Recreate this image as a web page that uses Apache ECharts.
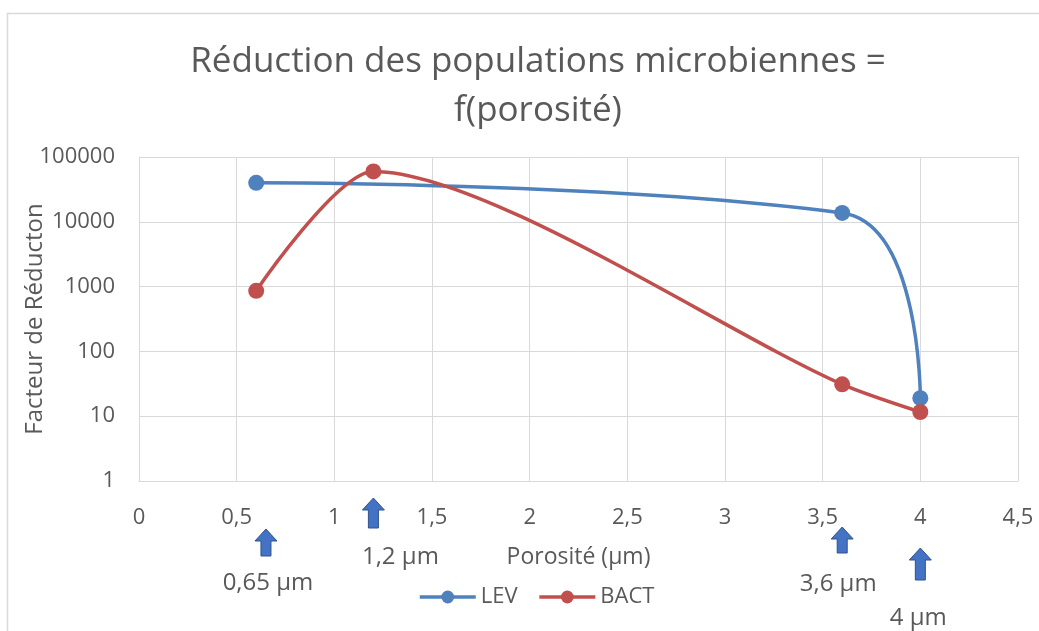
<!DOCTYPE html>
<html>
<head>
<meta charset="utf-8">
<script src="https://cdn.jsdelivr.net/npm/echarts@6/dist/echarts.min.js"></script>
<style>
  html, body { margin: 0; padding: 0; background: #fff; }
  #chart { width: 1039px; height: 631px; }
</style>
</head>
<body>
<div id="chart"></div>
<script>
// données
var porositeLEV = [0.6, 3.6, 4];
var valeursLEV = [40000, 13700, 19];
var porositeBACT = [0.6, 1.2, 3.6, 4];
var valeursBACT = [860, 60000, 31, 11.6];
// flèches sous l'axe
var flechesX = [0.65, 1.2, 3.6, 4];
var flechesLabels = ['0,65 µm', '1,2 µm', '3,6 µm', '4 µm'];

// mise en page des flèches (px)
var flechesTop = [529, 498, 527, 548];
var flechesHaut = [27, 30, 26, 32];
var labelsDx = [2, 27, -4, -2];
var labelsY = [583, 557, 584, 618];

var gris = '#595959';
var police = '"Open Sans", sans-serif';

function paires(xs, ys) {
    return xs.map(function (x, i) { return [x, ys[i]]; });
}

var chart = echarts.init(document.getElementById('chart'));
chart.setOption({
    animation: false,
    textStyle: { fontFamily: police },
    title: {
        text: 'Réduction des populations microbiennes =\nf(porosité)',
        left: 533,
        textAlign: 'center',
        top: 33,
        textStyle: { fontSize: 35, fontWeight: 'normal', color: gris, lineHeight: 49, fontFamily: police }
    },
    legend: {
        bottom: 18,
        left: 413,
        itemWidth: 56,
        itemHeight: 16,
        itemGap: 20,
        lineStyle: { width: 3.5 },
        textStyle: { fontSize: 22, color: gris },
        data: ['LEV', 'BACT']
    },
    grid: { left: 139, right: 21, top: 157, bottom: 150, outerBoundsMode: 'none' },
    xAxis: {
        type: 'value',
        min: 0, max: 4.5, interval: 0.5,
        name: 'Porosité (µm)',
        nameLocation: 'middle',
        nameGap: 65,
        nameMoveOverlap: false,
        nameTextStyle: { fontSize: 23, color: gris },
        axisLine: { show: true, lineStyle: { color: '#d9d9d9' } },
        axisTick: { show: false },
        splitLine: { show: true, lineStyle: { color: '#d9d9d9' } },
        axisLabel: {
            fontSize: 22, color: gris, margin: 26,
            formatter: function (v) { return String(v).replace('.', ','); }
        }
    },
    yAxis: {
        type: 'log',
        logBase: 10,
        min: 1, max: 100000,
        name: 'Facteur de Réducton',
        nameLocation: 'middle',
        nameGap: 92,
        nameMoveOverlap: false,
        nameTextStyle: { fontSize: 24, color: gris },
        axisLine: { show: true, lineStyle: { color: '#d9d9d9' } },
        axisTick: { show: false },
        splitLine: { show: true, lineStyle: { color: '#d9d9d9' } },
        axisLabel: {
            fontSize: 22, color: gris, margin: 24,
            formatter: function (v) { return String(v); }
        }
    },
    series: [
        {
            name: 'LEV', type: 'line', smooth: 0.5,
            data: paires(porositeLEV, valeursLEV),
            symbol: 'circle', symbolSize: 16,
            itemStyle: { color: '#4F81BD' },
            lineStyle: { width: 3.5, color: '#4F81BD' }
        },
        {
            name: 'BACT', type: 'line', smooth: 0.25,
            data: paires(porositeBACT, valeursBACT),
            symbol: 'circle', symbolSize: 16,
            itemStyle: { color: '#C0504D' },
            lineStyle: { width: 3.5, color: '#C0504D' }
        }
    ]
});

// cadre + flèches, x calculé par l'échelle de l'axe
var elements = [{
    type: 'rect',
    shape: { x: 7.5, y: 13.5, width: 1040, height: 640 },
    style: { fill: null, stroke: '#d9d9d9', lineWidth: 1.5 },
    silent: true
}];
flechesX.forEach(function (v, i) {
    var px = chart.convertToPixel({ xAxisIndex: 0 }, v);
    var t = flechesTop[i];
    var b = t + flechesHaut[i];
    elements.push({
        type: 'polygon',
        shape: { points: [[px, t], [px + 11, t + 12], [px + 5, t + 12], [px + 5, b], [px - 5, b], [px - 5, t + 12], [px - 11, t + 12]] },
        style: { fill: '#4472C4', stroke: '#2F528F', lineWidth: 1 }
    });
    elements.push({
        type: 'text',
        x: px + labelsDx[i], y: labelsY[i],
        style: { text: flechesLabels[i], fontSize: 24, fill: gris, fontFamily: police, align: 'center', verticalAlign: 'middle' }
    });
});
chart.setOption({ graphic: elements });
</script>
</body>
</html>
